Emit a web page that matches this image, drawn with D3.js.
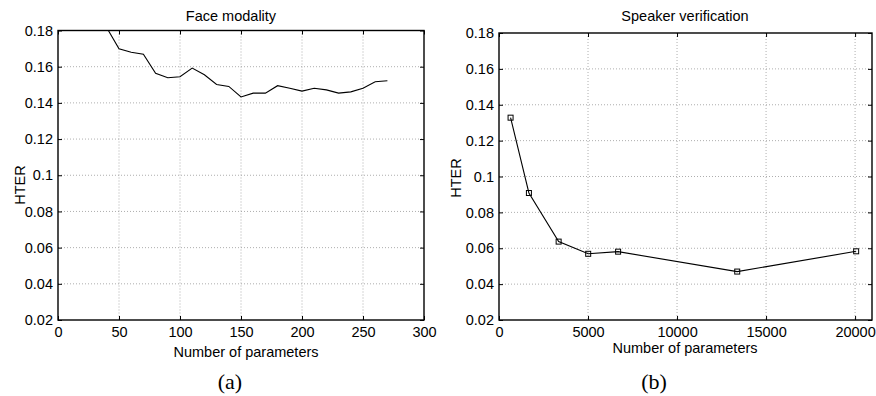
<!DOCTYPE html>
<html>
<head>
<meta charset="utf-8">
<script src="https://cdn.jsdelivr.net/npm/d3@7"></script>
<style>
  body { margin: 0; background: #fff; }
  svg text { font-family: "Liberation Sans", Arial, Helvetica, sans-serif; fill: #000; }
  .grid line { stroke: #999; stroke-dasharray: 1,2; stroke-width: 0.8; }
</style>
</head>
<body>
<svg id="chart" width="876" height="396"></svg>
<script>
// (a) face modality
const faceParams = [40, 50, 60, 70, 80, 90, 100, 110, 120, 130, 140, 150, 160, 170, 180, 190, 200, 210, 220, 230, 240, 250, 260, 270];
const faceHter = [0.1815, 0.1699, 0.168, 0.1669, 0.1564, 0.1539, 0.1544, 0.1592, 0.1555, 0.1502, 0.1491, 0.1433, 0.1454, 0.1454, 0.1495, 0.1481, 0.1465, 0.1481, 0.1472, 0.1454, 0.1461, 0.1481, 0.1517, 0.1522];
const faceXTicks = [0, 50, 100, 150, 200, 250, 300];

// (b) speaker verification
const speakerParams = [650, 1680, 3350, 5010, 6690, 13380, 20060];
const speakerHter = [0.1328, 0.0908, 0.0637, 0.0569, 0.0581, 0.047, 0.0583];
const speakerXTicks = [0, 5000, 10000, 15000, 20000];

const yTicks = [0.02, 0.04, 0.06, 0.08, 0.1, 0.12, 0.14, 0.16, 0.18];

const svg = d3.select('#chart');
const sansFont = '"Liberation Sans", Arial, Helvetica, sans-serif';

function drawPanel(opts) {
  const x = d3.scaleLinear().domain(opts.xDomain).range([opts.left, opts.right]);
  const y = d3.scaleLinear().domain([0.02, 0.18]).range([opts.bottom, opts.top]);
  const g = svg.append('g');

  const clipId = 'clip-' + opts.id;
  g.append('clipPath').attr('id', clipId)
   .append('rect')
   .attr('x', opts.left).attr('y', opts.top)
   .attr('width', opts.right - opts.left).attr('height', opts.bottom - opts.top);

  // dotted grid
  const grid = g.append('g').attr('class', 'grid');
  grid.selectAll('.vx')
      .data(opts.xTicks.filter(d => x(d) > opts.left + 1 && x(d) < opts.right - 1))
      .enter().append('line')
      .attr('x1', d => x(d)).attr('x2', d => x(d))
      .attr('y1', opts.top).attr('y2', opts.bottom);
  grid.selectAll('.hy')
      .data(yTicks.slice(1, -1))
      .enter().append('line')
      .attr('y1', d => y(d)).attr('y2', d => y(d))
      .attr('x1', opts.left).attr('x2', opts.right);

  // axes, ticks point inward on all four sides
  const tickLen = 4;
  g.append('g').attr('transform', `translate(0,${opts.bottom})`)
   .call(d3.axisBottom(x).tickValues(opts.xTicks).tickSize(-tickLen).tickPadding(7).tickFormat(d3.format('d')));
  g.append('g').attr('transform', `translate(0,${opts.top})`)
   .call(d3.axisTop(x).tickValues(opts.xTicks).tickSize(-tickLen).tickFormat(''));
  g.append('g').attr('transform', `translate(${opts.left},0)`)
   .call(d3.axisLeft(y).tickValues(yTicks).tickSize(-tickLen).tickPadding(5).tickFormat(d => d3.format('.2~f')(d)));
  g.append('g').attr('transform', `translate(${opts.right},0)`)
   .call(d3.axisRight(y).tickValues(yTicks).tickSize(-tickLen).tickFormat(''));

  g.selectAll('.domain').remove();
  g.selectAll('.tick line').attr('stroke', '#000').attr('stroke-width', 1);
  g.selectAll('.tick text').attr('font-size', 14.5).attr('fill', '#000')
   .style('font-family', sansFont);

  g.append('rect')
   .attr('x', opts.left).attr('y', opts.top)
   .attr('width', opts.right - opts.left).attr('height', opts.bottom - opts.top)
   .attr('fill', 'none').attr('stroke', '#000').attr('stroke-width', 1.4);

  // data line
  const pts = opts.xs.map((v, i) => [v, opts.ys[i]]);
  const line = d3.line().x(d => x(d[0])).y(d => y(d[1]));
  g.append('path').datum(pts)
   .attr('clip-path', `url(#${clipId})`)
   .attr('d', line)
   .attr('fill', 'none').attr('stroke', '#000').attr('stroke-width', 1.1);

  if (opts.markers) {
    g.selectAll('.mk').data(pts).enter().append('rect')
     .attr('x', d => x(d[0]) - 2.5).attr('y', d => y(d[1]) - 2.5)
     .attr('width', 5).attr('height', 5)
     .attr('fill', 'none').attr('stroke', '#000').attr('stroke-width', 1);
  }

  // labels
  g.append('text').attr('x', opts.titleX).attr('y', 21)
   .attr('text-anchor', 'middle').attr('font-size', 14.5).text(opts.title);
  g.append('text').attr('x', opts.xLabelX).attr('y', opts.xLabelY)
   .attr('text-anchor', 'middle').attr('font-size', 14.5).text('Number of parameters');
  g.append('text')
   .attr('transform', `translate(${opts.yLabelX},${opts.yLabelY}) rotate(-90)`)
   .attr('text-anchor', 'middle').attr('font-size', 14.5).text('HTER');
  g.append('text').attr('x', opts.capX).attr('y', 389)
   .attr('text-anchor', 'middle').attr('font-size', 22)
   .style('font-family', '"Liberation Serif", "DejaVu Serif", serif')
   .text(opts.caption);
}

drawPanel({
  id: 'a', xDomain: [0, 300], xTicks: faceXTicks,
  left: 58, right: 424, top: 30.5, bottom: 320,
  xs: faceParams, ys: faceHter, markers: false,
  title: 'Face modality', titleX: 231,
  xLabelX: 246, xLabelY: 357, yLabelX: 25, yLabelY: 185,
  caption: '(a)', capX: 230
});

drawPanel({
  id: 'b', xDomain: [0, 20950], xTicks: speakerXTicks,
  left: 499, right: 872, top: 33, bottom: 320,
  xs: speakerParams, ys: speakerHter, markers: true,
  title: 'Speaker verification', titleX: 685,
  xLabelX: 685, xLabelY: 353, yLabelX: 461, yLabelY: 178,
  caption: '(b)', capX: 654
});
</script>
</body>
</html>
